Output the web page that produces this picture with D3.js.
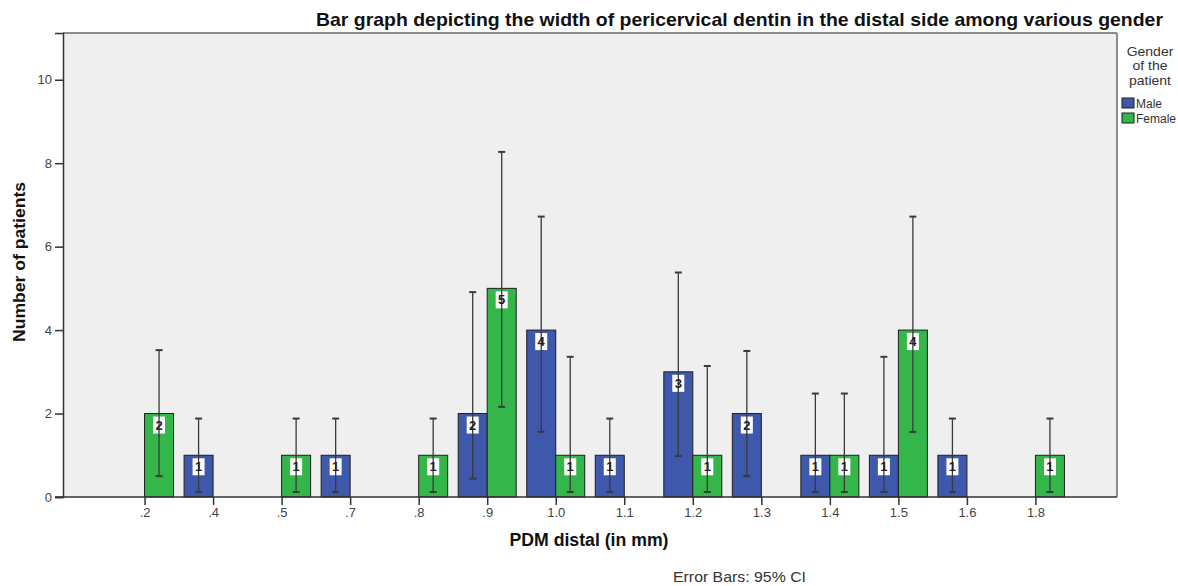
<!DOCTYPE html>
<html>
<head>
<meta charset="utf-8">
<script src="https://cdn.jsdelivr.net/npm/d3@7"></script>
<style>
  html, body { margin: 0; padding: 0; background: #ffffff; }
  svg { display: block; font-family: "Liberation Sans", Arial, sans-serif; }
</style>
</head>
<body>
<svg id="chart" width="1178" height="586"></svg>
<script>
// ---- data ----
const categories = [".2", ".4", ".5", ".7", ".8", ".9", "1.0", "1.1", "1.2", "1.3", "1.4", "1.5", "1.6", "1.8"];
const seriesNames = ["Male", "Female"];
const maleCounts   = [0, 1, 0, 1, 0, 2, 4, 1, 3, 2, 1, 1, 1, 0];
const femaleCounts = [2, 0, 1, 0, 1, 5, 1, 0, 1, 0, 1, 4, 0, 1];
const maleCILow    = [null, 0.12, null, 0.12, null, 0.44, 1.56, 0.12, 0.98, 0.5, 0.12, 0.12, 0.12, null];
const maleCIHigh   = [null, 1.88, null, 1.88, null, 4.91, 6.72, 1.88, 5.38, 3.5, 2.48, 3.36, 1.88, null];
const femaleCILow  = [0.5, null, 0.12, null, 0.12, 2.16, 0.12, null, 0.12, null, 0.12, 1.56, null, 0.12];
const femaleCIHigh = [3.52, null, 1.88, null, 1.88, 8.27, 3.36, null, 3.14, null, 2.48, 6.72, null, 1.88];
const yTicks = [0, 2, 4, 6, 8, 10];

const colors = { Male: "#3E58AC", Female: "#35B64A" };

// ---- layout ----
const svg = d3.select("#chart");
const pLeft = 63, pRight = 1117, pTop = 33, pBottom = 497;

const x = d3.scalePoint().domain(categories).range([pLeft, pRight]).padding(1.19);
const barW = 29;
const x1 = d3.scaleBand().domain(seriesNames).range([-barW, barW]).padding(0);
const y = d3.scaleLinear().domain([0, 11.12]).range([pBottom, pTop]);

// plot background
svg.append("rect").attr("x", pLeft).attr("y", pTop)
  .attr("width", pRight - pLeft).attr("height", pBottom - pTop)
  .attr("fill", "#EFEFEF");

// top & right border
svg.append("line").attr("x1", pLeft).attr("x2", pRight).attr("y1", pTop).attr("y2", pTop)
  .attr("stroke", "#6a6a6a").attr("stroke-width", 1.5);
svg.append("line").attr("x1", pRight).attr("x2", pRight).attr("y1", pTop).attr("y2", pBottom)
  .attr("stroke", "#6a6a6a").attr("stroke-width", 1.5);

// build records
const records = [];
categories.forEach((c, i) => {
  records.push({ cat: c, s: "Male", v: maleCounts[i], lo: maleCILow[i], hi: maleCIHigh[i] });
  records.push({ cat: c, s: "Female", v: femaleCounts[i], lo: femaleCILow[i], hi: femaleCIHigh[i] });
});
const present = records.filter(d => d.v > 0);
const cx = d => x(d.cat) + x1(d.s) + x1.bandwidth() / 2;

// bars
svg.append("g").selectAll("rect").data(present).join("rect")
  .attr("x", d => x(d.cat) + x1(d.s))
  .attr("y", d => y(d.v))
  .attr("width", x1.bandwidth())
  .attr("height", d => y(0) - y(d.v))
  .attr("fill", d => colors[d.s])
  .attr("stroke", "#1e1e1e").attr("stroke-width", 1);

// label boxes
svg.append("g").selectAll("rect").data(present).join("rect")
  .attr("x", d => cx(d) - 6)
  .attr("y", d => y(d.v) + 3)
  .attr("width", 12).attr("height", 17)
  .attr("fill", "#ffffff");

// error bars
const eb = svg.append("g").selectAll("g").data(present).join("g")
  .attr("stroke", "#3a3a3a").attr("stroke-width", 1.3);
eb.append("line").attr("x1", cx).attr("x2", cx)
  .attr("y1", d => y(d.lo)).attr("y2", d => y(d.hi));
eb.append("line").attr("x1", d => cx(d) - 3.5).attr("x2", d => cx(d) + 3.5)
  .attr("y1", d => y(d.hi)).attr("y2", d => y(d.hi)).attr("stroke-width", 2);
eb.append("line").attr("x1", d => cx(d) - 3.5).attr("x2", d => cx(d) + 3.5)
  .attr("y1", d => y(d.lo)).attr("y2", d => y(d.lo)).attr("stroke-width", 2);

// labels text
svg.append("g").selectAll("text").data(present).join("text")
  .attr("x", cx).attr("y", d => y(d.v) + 16)
  .attr("text-anchor", "middle")
  .attr("font-size", 13).attr("font-weight", "bold").attr("fill", "#222")
  .text(d => d.v);

// y axis
const yAxis = svg.append("g").attr("transform", `translate(${pLeft},0)`)
  .call(d3.axisLeft(y).tickValues(yTicks).tickSize(8).tickPadding(3).tickFormat(d3.format("d")));
yAxis.select(".domain").attr("stroke", "#333").attr("stroke-width", 1.5);
yAxis.selectAll(".tick line").attr("stroke", "#333").attr("stroke-width", 1.5);
yAxis.selectAll(".tick text").attr("font-size", 13).attr("fill", "#444")
  .attr("font-family", "Liberation Sans, Arial, sans-serif");

// x axis
const xAxis = svg.append("g").attr("transform", `translate(0,${pBottom})`)
  .call(d3.axisBottom(x).tickSize(8).tickPadding(3));
xAxis.select(".domain").attr("d", `M${pLeft - 8},0H${pRight}`).attr("stroke", "#333").attr("stroke-width", 1.5);
xAxis.selectAll(".tick line").attr("stroke", "#333").attr("stroke-width", 1.5);
xAxis.selectAll(".tick text").attr("font-size", 13).attr("fill", "#444")
  .attr("font-family", "Liberation Sans, Arial, sans-serif");

// title
svg.append("text").attr("x", 316).attr("y", 26)
  .attr("font-size", 18.5).attr("font-weight", "bold").attr("fill", "#111")
  .attr("textLength", 847).attr("lengthAdjust", "spacingAndGlyphs")
  .text("Bar graph depicting the width of pericervical dentin in the distal side among various gender");

// axis titles
svg.append("text").attr("transform", "translate(25,262) rotate(-90)")
  .attr("text-anchor", "middle").attr("font-size", 17).attr("font-weight", "bold").attr("fill", "#111")
  .attr("textLength", 160).attr("lengthAdjust", "spacingAndGlyphs")
  .text("Number of patients");
svg.append("text").attr("x", 589).attr("y", 546).attr("text-anchor", "middle")
  .attr("font-size", 17.5).attr("font-weight", "bold").attr("fill", "#111")
  .attr("textLength", 159).attr("lengthAdjust", "spacingAndGlyphs")
  .text("PDM distal (in mm)");

// footnote
svg.append("text").attr("x", 673).attr("y", 582)
  .attr("font-size", 15).attr("fill", "#333")
  .attr("textLength", 133).attr("lengthAdjust", "spacingAndGlyphs")
  .text("Error Bars: 95% CI");

// legend
const lg = svg.append("g");
["Gender", "of the", "patient"].forEach((t, i) => {
  lg.append("text").attr("x", 1150).attr("y", 56 + i * 14.5).attr("text-anchor", "middle")
    .attr("font-size", 12.5).attr("fill", "#333")
    .attr("transform", `translate(1150,0) scale(1.12,1) translate(-1150,0)`)
    .text(t);
});
seriesNames.forEach((s, i) => {
  lg.append("rect").attr("x", 1122).attr("y", 98 + i * 15).attr("width", 12).attr("height", 10)
    .attr("fill", colors[s]).attr("stroke", "#1e1e1e").attr("stroke-width", 1);
  lg.append("text").attr("x", 1136).attr("y", 107.5 + i * 15)
    .attr("font-size", 12).attr("fill", "#333").text(s);
});
</script>
</body>
</html>
